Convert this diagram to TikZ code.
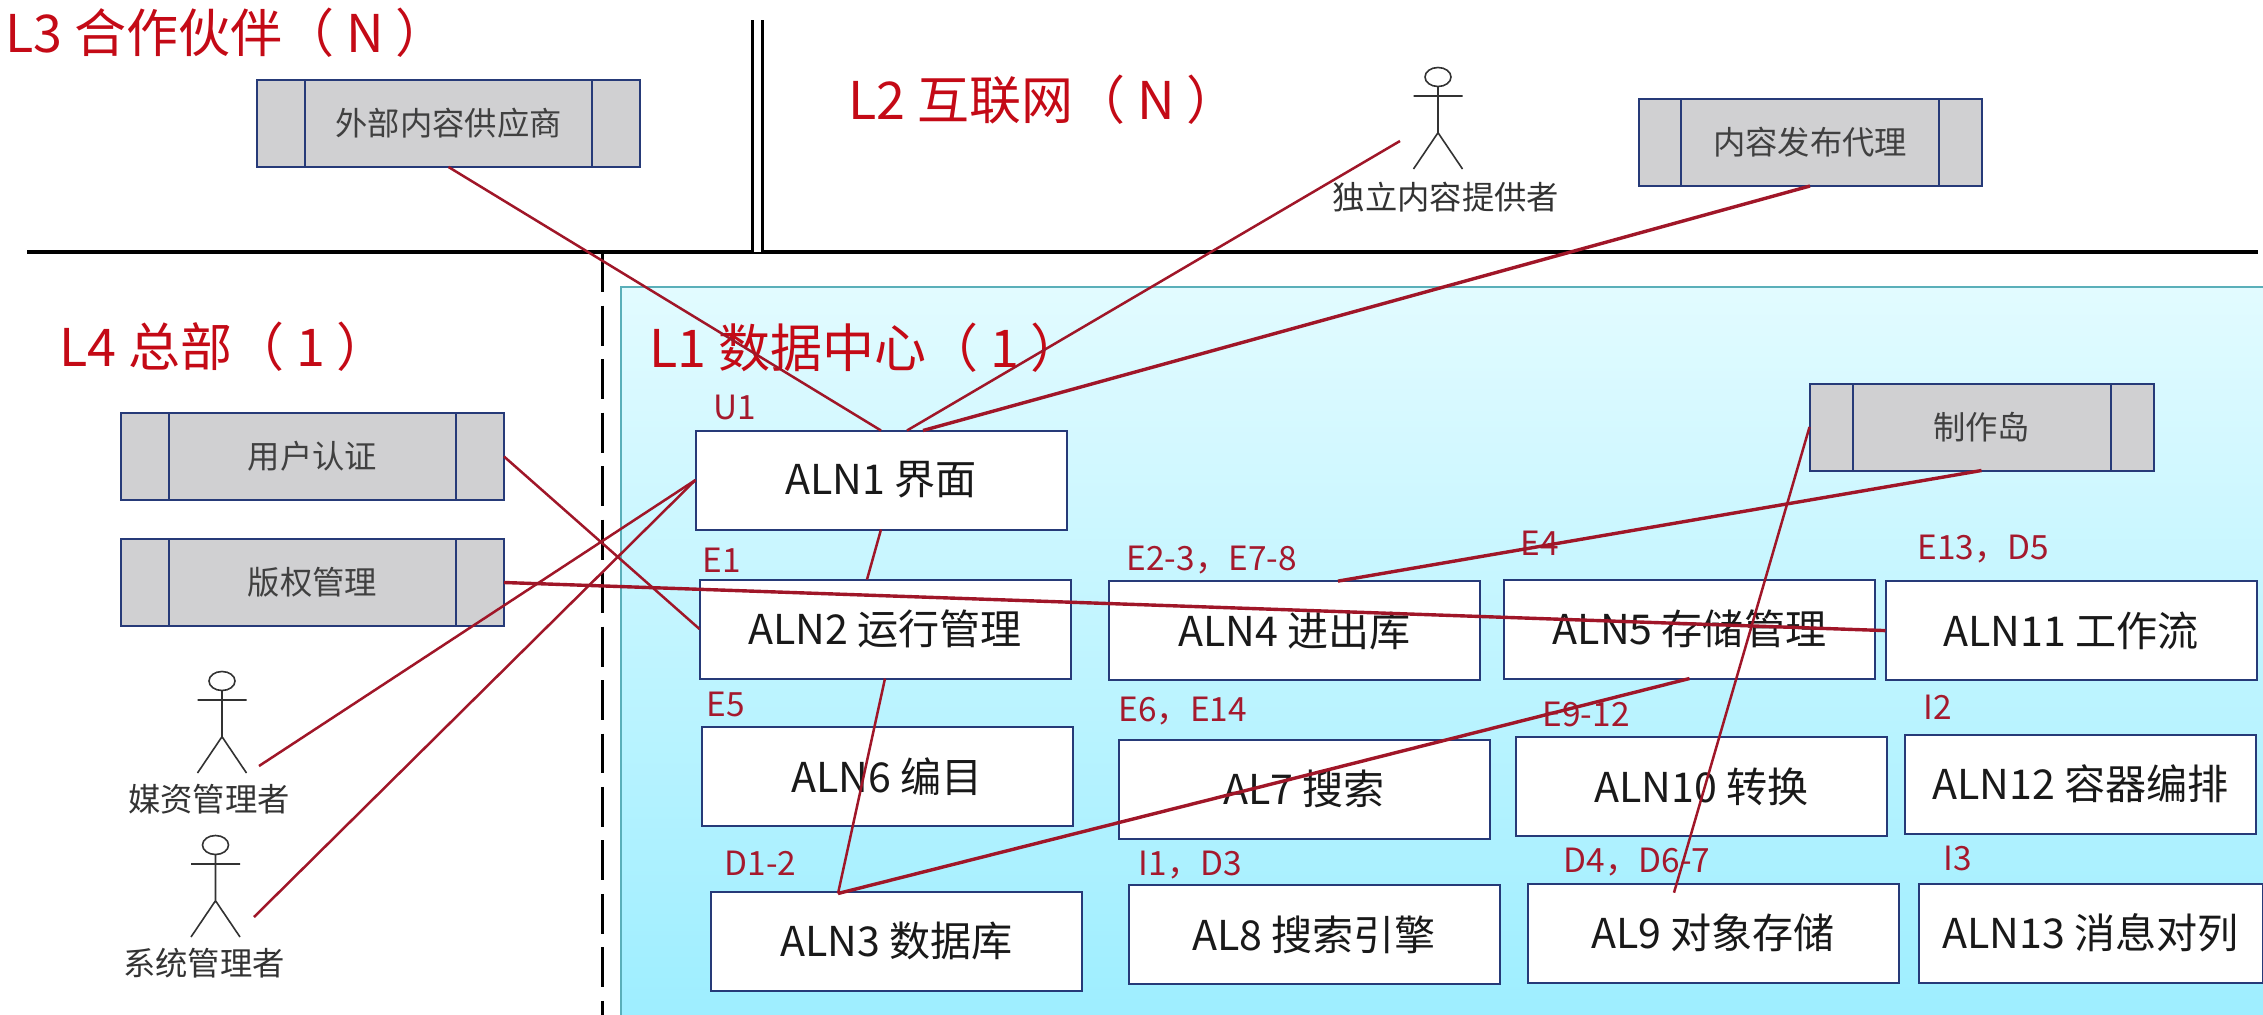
\documentclass[tikz,border=0pt]{standalone}
\usepackage{fontspec}
\usepackage{xcolor}
\usetikzlibrary{calc,positioning}
\setmainfont{Noto Sans CJK SC}
\definecolor{boxblue}{RGB}{38,58,120}
\definecolor{procgrey}{RGB}{208,208,210}
\definecolor{linkred}{RGB}{160,22,40}
\definecolor{tagred}{RGB}{165,25,45}
\definecolor{zonered}{RGB}{196,10,22}
\definecolor{actorgrey}{RGB}{50,50,50}
\definecolor{dctop}{RGB}{226,251,255}
\definecolor{dcbottom}{RGB}{158,238,255}
\definecolor{dcedge}{RGB}{90,175,185}

\begin{document}
\begin{tikzpicture}[x=.1mm,y=-.1mm,font=\fontsize{11.7}{14}\selectfont]
\tikzset{box/.style={draw=boxblue,fill=white,line width=.2mm,minimum width=37.1mm,minimum height=9.9mm,inner sep=0pt,outer sep=0pt,text=black!90},
proc/.style={draw=boxblue,fill=procgrey,line width=.2mm,minimum width=#1,minimum height=8.7mm,inner sep=0pt,outer sep=0pt,text=black!75,font=\fontsize{9.2}{11}\selectfont,
path picture={\foreach \f in {.125,.875}
\draw[boxblue,line width=.2mm] ($(path picture bounding box.north west)!\f!(path picture bounding box.north east)$)--($(path picture bounding box.south west)!\f!(path picture bounding box.south east)$);}},
zone/.style={anchor=west,inner sep=0pt,text=zonered,font=\fontsize{14.8}{17}\selectfont},
tag/.style={anchor=west,inner sep=0pt,text=tagred,font=\fontsize{9.5}{11}\selectfont},
actorname/.style={inner sep=0pt,text=black!80,font=\fontsize{9.2}{11}\selectfont},
link/.style={draw=linkred,line width=.25mm},
boldlink/.style={draw=linkred,line width=.34mm},
actor/.pic={\draw[actorgrey,line width=.16mm] (0,0) ellipse[x radius=13,y radius=9.5] (0,9.5)--(0,55.7) (-24.5,19)--(24.5,19) (-24.5,92)--(0,55.7)--(24.5,92);}}
\useasboundingbox (0,0) rectangle (2263,1015);
\fill[white] (0,0) rectangle (2263,1015);
\node[minimum width=164.2mm,minimum height=72.8mm,inner sep=0pt,outer sep=0pt,top color=dctop,bottom color=dcbottom,anchor=north west] (dc) at (621,287) {};
\draw[dcedge,line width=.25mm] (dc.south west)--(dc.north west)--(dc.north east);
\draw[line width=.4mm] (27,252)--(2258,252);
\draw[line width=.3mm,double,double distance=.7mm] (757,20)--(757,252);
\draw[line width=.3mm,dash pattern=on 4mm off 1.35mm] (602,252)--(602,1015);

\node[zone] (l3) at (5,33) {L3 合作伙伴（ N ）};
\node[zone] (l2) at (848,100) {L2 互联网（ N ）};
\node[zone] (l4) at (59,347) {L4 总部（ 1 ）};
\node[zone] (l1) at (649,348) {L1 数据中心（ 1 ）};

\node[proc=38.3mm] (ext) at (448.5,123.5) {外部内容供应商};
\node[proc=34.3mm] (agent) at (1810,142.5) {内容发布代理};
\node[proc=38.3mm] (auth) at (312.5,456.5) {用户认证};
\node[proc=38.3mm,below=3.9mm of auth] (drm) {版权管理};
\node[proc=34.4mm] (island) at (1981.5,427) {制作岛};

\node[box] (aln1) at (881,480) {ALN1 界面};
\node[box,below=5mm of aln1,xshift=.4mm] (aln2) {ALN2 运行管理};
\node[box,below=4.85mm of aln2,xshift=.2mm] (aln6) {ALN6 编目};
\node[box,below=6.55mm of aln6,xshift=.95mm] (aln3) {ALN3 数据库};
\node[box,right=3.85mm of aln2,yshift=-.16mm] (aln4) {ALN4 进出库};
\node[box,right=2.4mm of aln4,yshift=.16mm] (aln5) {ALN5 存储管理};
\node[box,right=1.05mm of aln5,yshift=-.16mm] (aln11) {ALN11 工作流};
\node[box,right=4.6mm of aln6,yshift=-1.25mm] (al7) {AL7 搜索};
\node[box,right=2.65mm of al7,yshift=.25mm] (aln10) {ALN10 转换};
\node[box,right=1.8mm of aln10,yshift=.25mm,minimum width=35.1mm] (aln12) {ALN12 容器编排};
\node[box,right=4.65mm of aln3,yshift=.63mm] (al8) {AL8 搜索引擎};
\node[box,right=2.8mm of al8,yshift=.15mm] (al9) {AL9 对象存储};
\node[box,right=2mm of al9,minimum width=34.4mm] (aln13) {ALN13 消息对列};

\node[tag] (u1) at (713,407) {U1};
\node[tag] (e1) at (702,560) {E1};
\node[tag] (e5) at (706,704) {E5};
\node[tag] (d12) at (724,863) {D1-2};
\node[tag] (e23) at (1126,560) {E2-3，E7-8};
\node[tag] (e6) at (1118,711) {E6，E14};
\node[tag] (i1) at (1138,865) {I1，D3};
\node[tag] (e4) at (1520,543) {E4};
\node[tag] (e9) at (1542,714) {E9-12};
\node[tag] (d4) at (1563,862) {D4，D6-7};
\node[tag] (e13) at (1917,549) {E13，D5};
\node[tag] (i2) at (1923,707) {I2};
\node[tag] (i3) at (1943,858) {I3};

\pic at (1438,77) {actor};
\pic at (222,681) {actor};
\pic at (215.5,845) {actor};
\node[actorname] (indep) at (1446,197) {独立内容提供者};
\node[actorname] (media) at (209,799) {媒资管理者};
\node[actorname] (admin) at (204,963) {系统管理者};
\coordinate (independ) at (1400,141);
\coordinate (mediaend) at (259,766);
\coordinate (adminend) at (254,917);

\draw[link] (ext.south)--(aln1.north);
\draw[link] (independ)--([xshift=2.6mm]aln1.north);
\draw[boldlink] (agent.south)--([xshift=4.2mm]aln1.north);
\draw[link] (auth.east)--(aln2.west);
\draw[boldlink] (drm.east)--(aln11.west);
\draw[link] (mediaend)--(aln1.west);
\draw[link] (adminend)--(aln1.west);
\draw[link] (aln1.south)--([xshift=-1.8mm]aln2.north);
\draw[link] (aln2.south)--([xshift=-5.85mm,yshift=-.2mm]aln3.north);
\draw[boldlink] (aln5.south)--([xshift=-5.85mm,yshift=-.2mm]aln3.north);
\draw[boldlink] (island.south)--([xshift=4.35mm]aln4.north);
\draw[link] (island.west)--([xshift=-3.9mm,yshift=-.9mm]al9.north);
\end{tikzpicture}
\end{document}
